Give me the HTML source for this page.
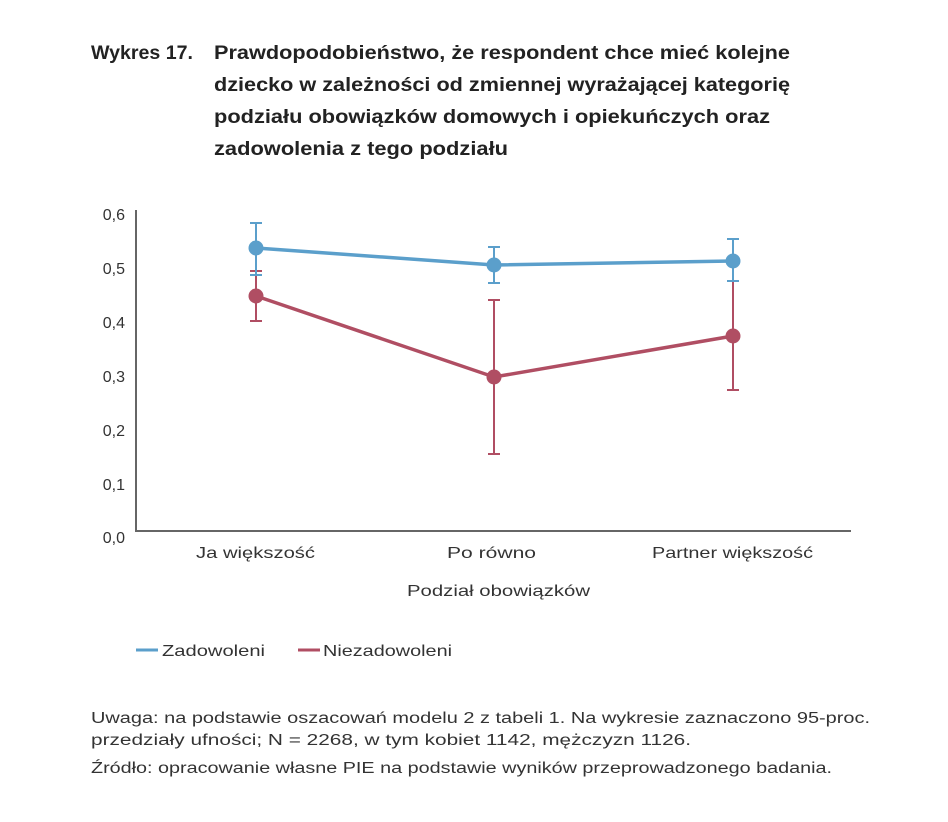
<!DOCTYPE html>
<html><head><meta charset="utf-8"><style>
body{margin:0;background:#fff;width:948px;height:822px;overflow:hidden;font-family:"Liberation Sans",sans-serif;color:#222}
</style></head><body>
<svg width="948" height="822" style="position:absolute;left:0;top:0" font-family="Liberation Sans, sans-serif">
<g font-size="19" font-weight="bold" fill="#222">
<text x="91" y="59" textLength="102" lengthAdjust="spacingAndGlyphs">Wykres 17.</text>
<text x="214" y="59" textLength="576" lengthAdjust="spacingAndGlyphs">Prawdopodobieństwo, że respondent chce mieć kolejne</text>
<text x="214" y="91" textLength="576" lengthAdjust="spacingAndGlyphs">dziecko w zależności od zmiennej wyrażającej kategorię</text>
<text x="214" y="123" textLength="556" lengthAdjust="spacingAndGlyphs">podziału obowiązków domowych i opiekuńczych oraz</text>
<text x="214" y="155" textLength="294" lengthAdjust="spacingAndGlyphs">zadowolenia z tego podziału</text>
</g>
<g font-size="16" fill="#333" text-anchor="end">
<text x="125" y="220">0,6</text><text x="125" y="274">0,5</text><text x="125" y="328">0,4</text><text x="125" y="382">0,3</text><text x="125" y="436">0,2</text><text x="125" y="490">0,1</text><text x="125" y="543">0,0</text>
</g>
<path d="M136 210V531H851" fill="none" stroke="#666" stroke-width="2"/>
<g font-size="16" fill="#333">
<text x="196" y="558" textLength="119" lengthAdjust="spacingAndGlyphs">Ja większość</text>
<text x="447" y="558" textLength="89" lengthAdjust="spacingAndGlyphs">Po równo</text>
<text x="652" y="558" textLength="161" lengthAdjust="spacingAndGlyphs">Partner większość</text>
<text x="407" y="596" textLength="183" lengthAdjust="spacingAndGlyphs">Podział obowiązków</text>
</g>
<g stroke="#b04e63" stroke-width="2" fill="none">
<path d="M256 271V321M250 271H262M250 321H262M494 300V454M488 300H500M488 454H500M733 281V390M727 281H739M727 390H739"/>
<polyline points="256,296 494,377 733,336" stroke-width="3.5"/>
</g>
<g fill="#b04e63"><circle cx="256" cy="296" r="7.5"/><circle cx="494" cy="377" r="7.5"/><circle cx="733" cy="336" r="7.5"/></g>
<g stroke="#5b9fcb" stroke-width="2" fill="none">
<path d="M256 223V275M250 223H262M250 275H262M494 247V283M488 247H500M488 283H500M733 239V281M727 239H739M727 281H739"/>
<polyline points="256,248 494,265 733,261" stroke-width="3.5"/>
</g>
<g fill="#5b9fcb"><circle cx="256" cy="248" r="7.5"/><circle cx="494" cy="265" r="7.5"/><circle cx="733" cy="261" r="7.5"/></g>
<line x1="136" y1="650" x2="158" y2="650" stroke="#5b9fcb" stroke-width="3"/>
<text x="162" y="656" font-size="16" fill="#333" textLength="103" lengthAdjust="spacingAndGlyphs">Zadowoleni</text>
<line x1="298" y1="650" x2="320" y2="650" stroke="#b04e63" stroke-width="3"/>
<text x="323" y="656" font-size="16" fill="#333" textLength="129" lengthAdjust="spacingAndGlyphs">Niezadowoleni</text>
<g font-size="15.5" fill="#333">
<text x="91" y="723" textLength="779" lengthAdjust="spacingAndGlyphs">Uwaga: na podstawie oszacowań modelu 2 z tabeli 1. Na wykresie zaznaczono 95-proc.</text>
<text x="91" y="745" textLength="600" lengthAdjust="spacingAndGlyphs">przedziały ufności; N = 2268, w tym kobiet 1142, mężczyzn 1126.</text>
<text x="91" y="773" textLength="741" lengthAdjust="spacingAndGlyphs">Źródło: opracowanie własne PIE na podstawie wyników przeprowadzonego badania.</text>
</g>
</svg>
</body></html>
